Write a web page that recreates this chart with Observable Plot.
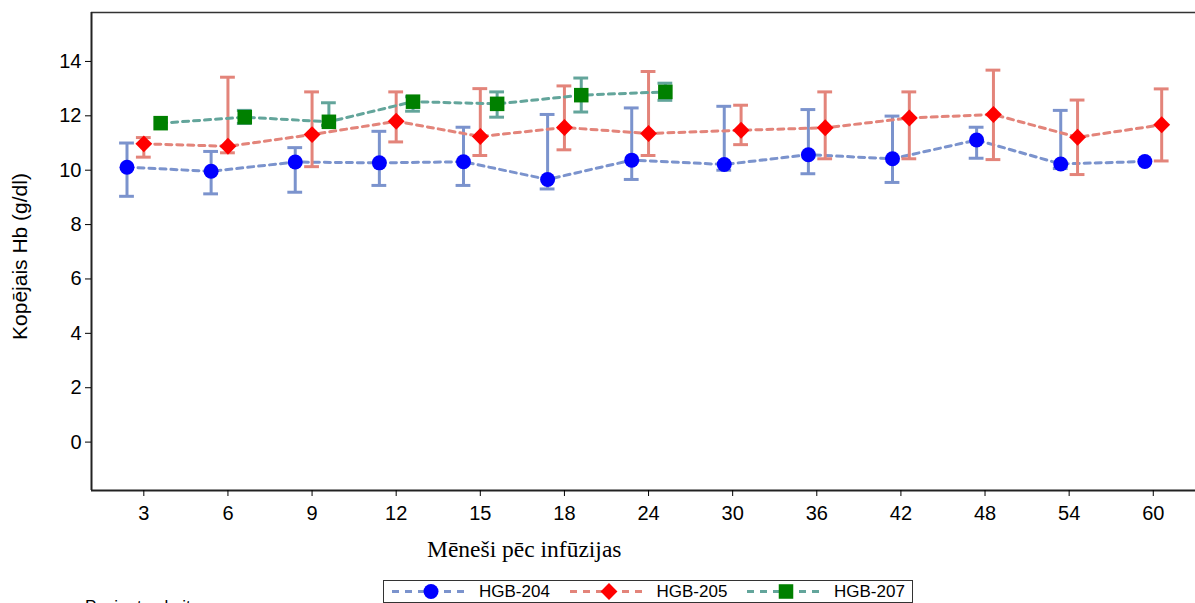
<!DOCTYPE html>
<html>
<head>
<meta charset="utf-8">
<script src="https://cdn.jsdelivr.net/npm/d3@7"></script>
<script src="https://cdn.jsdelivr.net/npm/@observablehq/plot@0.6"></script>
<style>
  html, body { margin: 0; padding: 0; background: #fff; }
  body { width: 1195px; height: 603px; overflow: hidden; position: relative; font-family: "Liberation Sans", Arial, sans-serif; color: #000; }
  #chart { position: absolute; left: 0; top: 0; }
  #xtitle { position: absolute; left: 427px; top: 536px; font-family: "Liberation Serif", "Times New Roman", serif; font-size: 23.5px; white-space: nowrap; }
  #legend { position: absolute; left: 383px; top: 580px; width: 530px; height: 23px; box-sizing: border-box; border: 1px solid #333; background: #fff; }
  .item { position: absolute; top: 0; height: 21px; display: flex; align-items: center; white-space: nowrap; font-size: 17px; }
  .item svg { margin-right: 8px; }
  #note { position: absolute; left: 85px; top: 597px; font-size: 17px; white-space: nowrap; }
</style>
</head>
<body>
<div id="chart"></div>
<div id="xtitle">Mēneši pēc infūzijas</div>
<div id="legend"></div>
<div id="note">Pacientu skaits</div>
<script>
// ---- data ----
const months = [3, 6, 9, 12, 15, 18, 24, 30, 36, 42, 48, 54, 60];
const seriesNames = ["HGB-204", "HGB-205", "HGB-207"];

const mean204 = [10.11, 9.96, 10.30, 10.27, 10.31, 9.66, 10.37, 10.21, 10.57, 10.42, 11.11, 10.23, 10.32];
const lo204   = [9.04, 9.13, 9.19, 9.44, 9.44, 9.31, 9.66, 10.00, 9.87, 9.55, 10.44, 10.06, null];
const hi204   = [11.00, 10.69, 10.83, 11.43, 11.58, 12.05, 12.29, 12.35, 12.23, 11.99, 11.58, 12.20, null];

const mean205 = [10.97, 10.88, 11.31, 11.80, 11.24, 11.57, 11.35, 11.47, 11.56, 11.92, 12.05, 11.21, 11.67];
const lo205   = [10.48, 10.64, 10.13, 11.04, 10.54, 10.75, 10.54, 10.94, 10.42, 10.42, 10.39, 9.84, 10.34];
const hi205   = [11.20, 13.42, 12.88, 12.88, 13.00, 13.10, 13.63, 12.39, 12.88, 12.88, 13.68, 12.58, 12.99];

const mean207 = [11.73, 11.95, 11.78, 12.52, 12.44, 12.76, 12.88, null, null, null, null, null, null];
const lo207   = [null, 11.72, 11.65, 12.17, 11.95, 12.14, 12.57, null, null, null, null, null, null];
const hi207   = [null, 12.20, 12.48, 12.70, 12.88, 13.39, 13.20, null, null, null, null, null, null];

const yTicks = [0, 2, 4, 6, 8, 10, 12, 14];

// ---- styles ----
const lineColors = ["#7B93CD", "#E3847A", "#63A59B"];
const markerColors = ["#0000FF", "#FF0000", "#008000"];
const symbols = ["circle", "diamond2", "square"];
const markerR = [7.5, 7.6, 8.2];

// ---- build table ----
const table = [
  {name: seriesNames[0], mean: mean204, lo: lo204, hi: hi204},
  {name: seriesNames[1], mean: mean205, lo: lo205, hi: hi205},
  {name: seriesNames[2], mean: mean207, lo: lo207, hi: hi207}
];
const rows = [];
table.forEach((s, si) => s.mean.forEach((m, i) => {
  if (m == null) return;
  rows.push({si, name: s.name, i, month: months[i], mean: m, lo: s.lo[i], hi: s.hi[i]});
}));
// cluster (dodge) the groups present at each month
const byMonth = d3.group(rows, d => d.i);
for (const g of byMonth.values()) g.forEach((d, k) => d.x = d.i + (k - (g.length - 1) / 2) * 0.2);

const xDomain = [-0.622, 12.502];
const yDomain = [-1.78, 15.8];
const capHalf = 0.088;

const marks = [
  Plot.ruleY([yDomain[1]], {stroke: "#333", strokeWidth: 1.5}),
  Plot.ruleY([yDomain[0]], {stroke: "#222", strokeWidth: 2}),
  Plot.ruleX([xDomain[0]], {stroke: "#222", strokeWidth: 2}),
  Plot.axisX({ticks: d3.range(months.length), tickFormat: i => months[i], tickSize: 6, tickPadding: 9, label: null}),
  Plot.axisY({ticks: yTicks, tickSize: 6, tickPadding: 4, label: null}),
  Plot.text(["Kopējais Hb (g/dl)"], {frameAnchor: "left", textAnchor: "middle", rotate: -90, dx: -71, dy: 5, fontSize: 21})
];
table.forEach((s, si) => {
  const d = rows.filter(r => r.si === si);
  const e = d.filter(r => r.lo != null && r.hi != null);
  const st = {stroke: lineColors[si], strokeWidth: 3};
  marks.push(Plot.line(d, {x: "x", y: "mean", ...st, strokeDasharray: "6,5"}));
  marks.push(Plot.ruleX(e, {x: "x", y1: "lo", y2: "hi", ...st}));
  marks.push(Plot.ruleY(e, {y: "hi", x1: r => r.x - capHalf, x2: r => r.x + capHalf, ...st}));
  marks.push(Plot.ruleY(e, {y: "lo", x1: r => r.x - capHalf, x2: r => r.x + capHalf, ...st}));
});
table.forEach((s, si) => {
  const d = rows.filter(r => r.si === si);
  marks.push(Plot.dot(d, {x: "x", y: "mean", symbol: symbols[si], fill: markerColors[si], stroke: "none", r: markerR[si]}));
});

const chart = Plot.plot({
  width: 1195,
  height: 570,
  marginTop: 12,
  marginBottom: 80,
  marginLeft: 91,
  marginRight: 0,
  x: {type: "linear", domain: xDomain},
  y: {domain: yDomain},
  style: {fontFamily: "'Liberation Sans', Arial, sans-serif", fontSize: "20px", color: "#000", background: "#fff", overflow: "visible"},
  marks
});
document.getElementById("chart").appendChild(chart);

// ---- legend ----
const legend = d3.select("#legend");
seriesNames.forEach((name, si) => {
  const item = legend.append("div").attr("class", "item").style("left", (7 + si * 177.5) + "px");
  const svg = item.append("svg").attr("width", 80).attr("height", 21);
  svg.append("line").attr("x1", 1).attr("x2", 79).attr("y1", 10.5).attr("y2", 10.5)
    .attr("stroke", lineColors[si]).attr("stroke-width", 3).attr("stroke-dasharray", "7,6");
  const size = markerR[si] * markerR[si] * Math.PI;
  const sym = si === 0 ? d3.symbolCircle : si === 1 ? d3.symbolDiamond2 : d3.symbolSquare;
  svg.append("path").attr("transform", "translate(40,10.5)")
    .attr("d", d3.symbol(sym, size)()).attr("fill", markerColors[si]);
  item.append("span").text(name);
});
</script>
</body>
</html>
